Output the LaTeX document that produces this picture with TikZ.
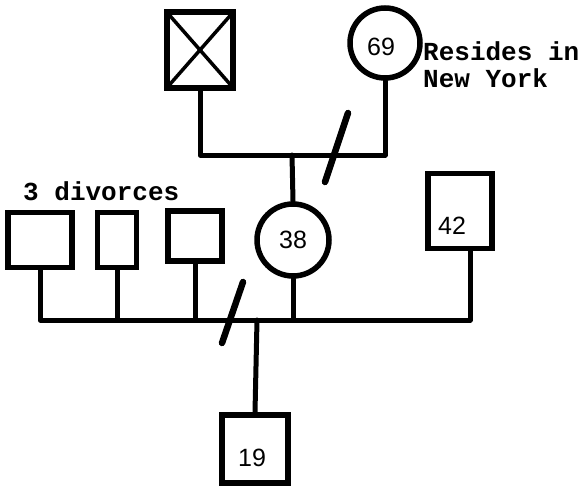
\documentclass[tikz,border=0pt]{standalone}
\usepackage{fontspec}
\setmainfont{Liberation Sans}
\setmonofont{Liberation Mono}
\usetikzlibrary{calc}
\tikzset{
  gBox/.style={draw,line width=5.5pt,inner sep=0pt,
        font=\fontsize{25}{25}\selectfont},
  gMale/.style={gBox,rectangle},
  gFemale/.style={gBox,circle},
  gNum/.style={inner sep=0pt,font=\fontsize{25}{25}\selectfont},
  gLine/.style={line width=5pt,line cap=round,line join=round},
  gSlash/.style={line width=6.5pt,line cap=round},
  gNote/.style={inner sep=0pt,align=left,
        font=\ttfamily\bfseries\fontsize{26}{27}\selectfont},
}

\begin{document}
\begin{tikzpicture}[x=1pt,y=-1pt]
\useasboundingbox (0,0) rectangle (585,487);
% grandparents
\node[gMale,minimum width=66pt,minimum height=76pt] (gf) at (200,50) {};
\draw[line width=3.5pt,shorten <=2pt,shorten >=2pt] (gf.north west)--(gf.south east);
\draw[line width=3.5pt,shorten <=2pt,shorten >=2pt] (gf.north east)--(gf.south west);
\node[gFemale,minimum size=70pt] (gm) at (385,43) {};
\node[gNum] (gmNum) at (381,47) {69};
\node[gNote,anchor=north west] (gmNote) at (423,41) {Resides in\\New York};
\coordinate (mar1) at (292,155);
\draw[gLine] (gf.south) |- (mar1) -| (gm.south);
\draw[gSlash] (325,182) -- (348,113);
% mother, her husbands and brother
\node[gFemale,minimum size=72pt] (mo) at (293,240) {38};
\draw[gLine] (mar1) -- (mo.north);
\node[gNote,anchor=base west] (divNote) at (23,200) {3 divorces};
\node[gMale,minimum width=64pt,minimum height=55pt] (h1) at (40,240) {};
\node[gMale,minimum width=39pt,minimum height=55pt] (h2) at (117,240) {};
\node[gMale,minimum width=54pt,minimum height=50pt] (h3) at (195,236) {};
\node[gMale,minimum width=64pt,minimum height=75pt] (un) at (460,211) {};
\node[gNum] (unNum) at (452,226) {42};
\coordinate (mar2) at (257,320);
\draw[gLine] (h1.south) |- (mar2) -| ([xshift=10pt]un.south);
\draw[gLine] (h2.south) -- (h2.south |- mar2);
\draw[gLine] (h3.south) -- (h3.south |- mar2);
\draw[gLine] (mo.south) -- (mo.south |- mar2);
\draw[gSlash] (222,343) -- (243,282);
% child
\node[gMale,minimum width=66pt,minimum height=68pt] (ch) at (255,449) {};
\node[gNum] (chNum) at (252,458) {19};
\draw[gLine] (mar2) -- (ch.north);
\end{tikzpicture}
\end{document}
